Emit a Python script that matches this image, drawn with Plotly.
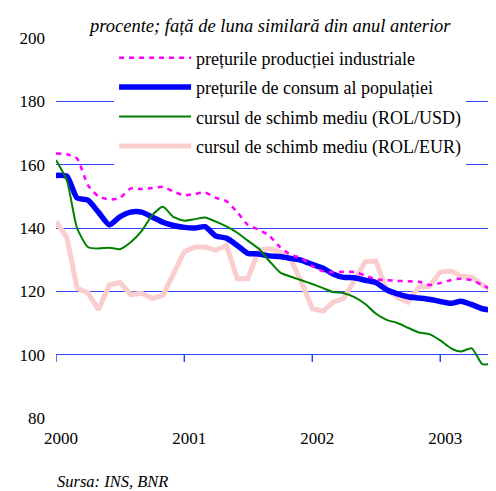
import pandas as pd
import plotly.graph_objects as go

months = pd.date_range("2000-01-01", periods=42, freq="MS")

ppi = [163.5, 163.3, 162.0, 153.5, 150.0, 149.0, 149.5, 152.5, 152.3, 152.6,
       153.0, 151.5, 150.3, 150.8, 151.2, 149.5, 148.5, 145.0, 141.0, 139.5,
       137.5, 134.0, 131.5, 130.5, 128.0, 126.3, 126.0, 126.2, 126.1, 125.0,
       123.8, 123.5, 123.3, 123.2, 123.0, 122.0, 122.6, 123.6, 124.0, 123.5,
       122.0, 120.3]
cpi = [156.6, 156.3, 149.5, 148.8, 145.0, 141.0, 143.5, 145.0, 145.0, 143.5,
       141.8, 140.8, 140.2, 140.0, 140.4, 137.5, 136.8, 134.5, 132.0, 131.8,
       131.2, 131.0, 130.4, 129.8, 128.5, 127.3, 125.5, 124.4, 124.3, 123.5,
       122.8, 120.5, 119.2, 118.3, 117.9, 117.5, 116.8, 116.2, 116.9, 115.8,
       114.5, 114.0]
usd = [161.5, 155.0, 140.0, 134.0, 133.5, 133.8, 133.3, 135.5, 139.0, 144.0,
       146.7, 143.5, 142.3, 142.8, 143.3, 142.0, 140.5, 138.5, 136.0, 133.5,
       129.5, 126.0, 124.6, 123.5, 122.3, 121.0, 119.8, 119.4, 118.2, 116.0,
       113.0, 111.0, 110.0, 108.5, 107.0, 106.5, 104.5, 102.0, 101.0, 102.0,
       97.0, 97.3]
eur = [142.0, 137.0, 121.0, 119.5, 114.2, 122.0, 122.8, 119.0, 119.4, 117.8,
       118.7, 125.5, 132.5, 134.0, 134.0, 133.0, 134.5, 124.0, 124.0, 133.0,
       133.5, 132.5, 130.0, 123.0, 114.5, 113.8, 116.5, 117.8, 123.5, 129.3,
       129.6, 120.5, 118.0, 116.6, 121.4, 121.6, 126.1, 126.4, 124.8, 124.5,
       122.0, 120.0]

names = ["prețurile producției industriale",
         "prețurile de consum al populației",
         "cursul de schimb mediu (ROL/USD)",
         "cursul de schimb mediu (ROL/EUR)"]
tick_years = ["2000", "2001", "2002", "2003"]
y_ticks = [80, 100, 120, 140, 160, 180, 200]
axis_value = 100

FONT = "'Liberation Serif', 'Times New Roman', serif"
GRID = "#3344ff"

fig = go.Figure()
fig.add_trace(go.Scatter(x=months, y=eur, name=names[3], mode="lines",
                         line=dict(color="rgb(250,206,206)", width=5),
                         legendrank=4, legendgroup="d"))
fig.add_trace(go.Scatter(x=months, y=cpi, name=names[1], mode="lines",
                         line=dict(color="#0000ff", width=5.5, shape="spline", smoothing=0.6),
                         legendrank=2, legendgroup="b"))
fig.add_trace(go.Scatter(x=months, y=usd, name=names[2], mode="lines",
                         line=dict(color="#008000", width=2, shape="spline", smoothing=0.6),
                         legendrank=3, legendgroup="c"))
fig.add_trace(go.Scatter(x=months, y=ppi, name=names[0], mode="lines",
                         line=dict(color="#ff00ff", width=2.5, dash="5px,5px",
                                   shape="spline", smoothing=0.5),
                         legendrank=1, legendgroup="a"))

fig.update_layout(
    width=488, height=483,
    margin=dict(l=48, r=0, t=30, b=73, autoexpand=False),
    paper_bgcolor="white", plot_bgcolor="white",
    font=dict(family=FONT, size=17, color="black"),
    showlegend=True,
    legend=dict(x=0.132, y=0.996, xanchor="left", yanchor="top",
                bgcolor="white", borderwidth=0, itemwidth=72,
                tracegroupgap=3, traceorder="grouped",
                font=dict(family=FONT, size=18, color="black")),
    xaxis=dict(range=["2000-01-01", "2003-06-09"], automargin=False,
               tickvals=[f"{y}-01-01" for y in tick_years], ticktext=tick_years,
               showgrid=False, zeroline=False, showline=False, ticks="",
               ticklabelstandoff=8, ticklabelshift=5,
               tickfont=dict(family=FONT, size=17)),
    yaxis=dict(range=[80, 200], tickvals=y_ticks, automargin=False,
               showgrid=True, gridcolor=GRID, gridwidth=1,
               zeroline=False, showline=False, ticks="",
               ticklabelstandoff=10,
               tickfont=dict(family=FONT, size=17)),
)

# tick marks hanging below the 100 line (axis crossing)
for y in tick_years:
    fig.add_shape(type="line", xref="x", yref="y",
                  x0=f"{y}-01-01", x1=f"{y}-01-01", y0=axis_value, y1=axis_value - 2.3,
                  line=dict(color=GRID, width=1.5), layer="above")

fig.add_annotation(text="<i>procente; față de luna similară din anul anterior</i>",
                   xref="paper", yref="paper", x=0.485, y=1.0, yshift=0,
                   xanchor="center", yanchor="bottom", showarrow=False,
                   font=dict(family=FONT, size=18.5, color="black"))
fig.add_annotation(text="<i>Sursa: INS, BNR</i>",
                   xref="paper", yref="paper", x=-0.002, y=0, yshift=-52,
                   xanchor="left", yanchor="top", showarrow=False,
                   font=dict(family=FONT, size=16.5, color="black"))

fig.write_html("out.html")
